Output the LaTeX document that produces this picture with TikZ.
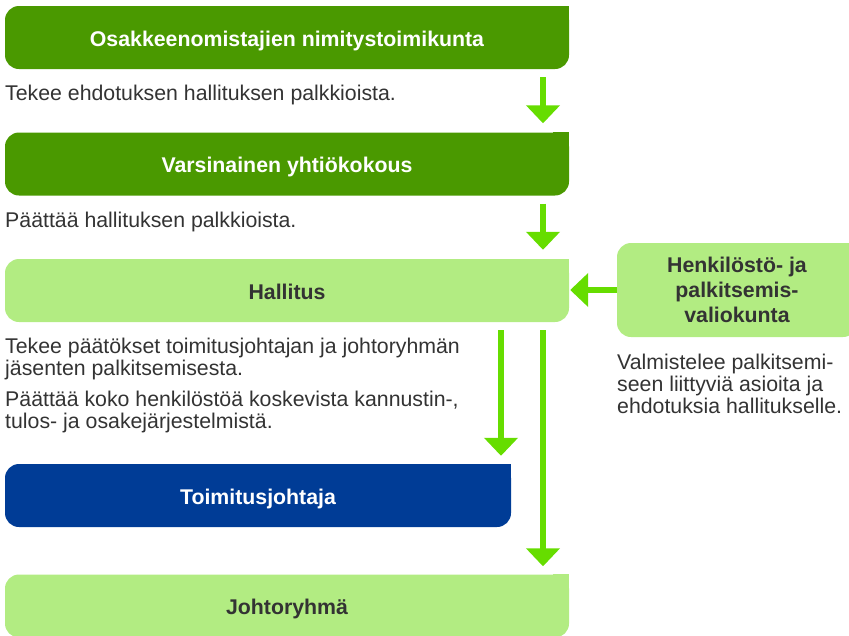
\documentclass[tikz,border=0pt]{standalone}
\usepackage{fontspec}
\setmainfont{Liberation Sans}
\usetikzlibrary{arrows.meta}
\definecolor{dkgreen}{RGB}{74,153,0}
\definecolor{ltgreen}{RGB}{178,236,130}
\definecolor{arrgreen}{RGB}{102,221,0}
\definecolor{tjblue}{RGB}{0,60,150}
\definecolor{txtgrey}{RGB}{51,51,51}
\tikzset{
  box/.style={rounded corners=14pt, minimum height=63pt, inner sep=0pt,
    font=\fontsize{21.3}{25}\selectfont\bfseries},
  oneline/.style={text height=17pt, text depth=0pt},
  darkbox/.style={box, oneline, fill=dkgreen, text=white},
  lightbox/.style={box, fill=ltgreen, text=txtgrey},
  bluebox/.style={box, oneline, fill=tjblue, text=white},
  note/.style={anchor=base west, inner sep=0pt, align=left, text=txtgrey,
    font=\fontsize{21.3}{22}\selectfont},
  flow/.style={arrgreen, line width=6pt, -{Triangle[width=33pt,length=18pt]}},
}
\begin{document}
\begin{tikzpicture}[x=1pt,y=-1pt]
        \useasboundingbox (0,0) rectangle (849,635);

        \node[darkbox, minimum width=564pt] (nom) at (287,37.5) {Osakkeenomistajien nimitystoimikunta};
        \node[darkbox, minimum width=564pt] (agm) at (287,164) {Varsinainen yhtiökokous};
        \node[lightbox, oneline, minimum width=564pt] (hall) at (287,290.5) {Hallitus};
        \node[bluebox, minimum width=506pt] (ceo) at (258,495.5) {Toimitusjohtaja};
        \node[lightbox, oneline, minimum width=564pt] (exec) at (287,606) {Johtoryhmä};
        \node[lightbox, minimum width=240pt, minimum height=94pt, align=center] (hr) at (737,290)
            {Henkilöstö- ja\\palkitsemis-\\valiokunta};

        \foreach \n/\c in {nom/dkgreen, agm/dkgreen, hall/ltgreen, ceo/tjblue, exec/ltgreen, hr/ltgreen}
            \fill[\c] (\n.north east) rectangle ++(-16,16);

        \node[note] (t1) at (5,100) {Tekee ehdotuksen hallituksen palkkioista.};
        \node[note] (t2) at (5,227) {Päättää hallituksen palkkioista.};
        \node[note] (t3) at (5,375) {Tekee päätökset toimitusjohtajan ja johtoryhmän\\jäsenten palkitsemisesta.};
        \node[note] (t4) at (5,428.5) {Päättää koko henkilöstöä koskevista kannustin-,\\tulos- ja osakejärjestelmistä.};
        \node[note] (t5) at (617,413) {Valmistelee palkitsemi-\\seen liittyviä asioita ja\\ehdotuksia hallitukselle.};

        \coordinate (col) at (543,0);
        \coordinate (colceo) at (501,0);
        \draw[flow, shorten <=8pt, shorten >=9pt] (nom.south -| col) -- (agm.north -| col);
        \draw[flow, shorten <=8pt, shorten >=9pt] (agm.south -| col) -- (hall.north -| col);
        \draw[flow, shorten <=8pt, shorten >=8pt] (hall.south -| colceo) -- (ceo.north -| colceo);
        \draw[flow, shorten <=8pt, shorten >=8pt] (hall.south -| col) -- (exec.north -| col);
        \draw[flow, shorten >=1pt] (hr.west) -- (hall.east |- hr.west);

\end{tikzpicture}
\end{document}
